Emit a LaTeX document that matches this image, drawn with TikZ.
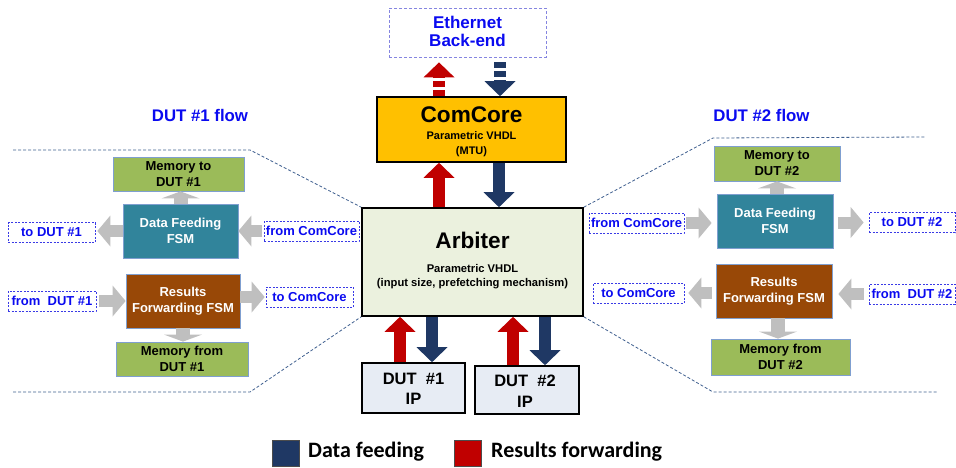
\documentclass[tikz,border=0pt]{standalone}
\usepackage{fontspec}
\setmainfont{Liberation Sans}
\newfontfamily\legendfont{Carlito}
\usetikzlibrary{arrows.meta}

\definecolor{ccfill}{HTML}{FFC000}
\definecolor{arbfill}{HTML}{EBF1DE}
\definecolor{dutfill}{HTML}{E7ECF4}
\definecolor{memgreen}{HTML}{9BBB59}
\definecolor{feedteal}{HTML}{31849B}
\definecolor{resbrown}{HTML}{984807}
\definecolor{arrowgray}{HTML}{BFBFBF}
\definecolor{resred}{HTML}{C00000}
\definecolor{feedblue}{HTML}{1F3864}
\definecolor{porttext}{HTML}{0A0AF0}
\definecolor{portline}{HTML}{3A3AE6}
\definecolor{ethline}{HTML}{8585E0}
\definecolor{panelline}{HTML}{7F9FD0}
\definecolor{regionblue}{HTML}{3F5F8F}

\newcommand\fsz[2]{\fontsize{#1}{#2}\selectfont}

\tikzset{
  panelbox/.style={draw=panelline, line width=0.8pt, inner sep=0pt, align=center,
    font=\bfseries\fsz{13}{16}},
  membox/.style={panelbox, fill=memgreen, text=black},
  feedbox/.style={panelbox, fill=feedteal, text=white},
  resbox/.style={panelbox, fill=resbrown, text=white},
  portbox/.style={draw=portline, line width=0.7pt, dash pattern=on 2pt off 1.5pt,
    inner sep=0pt, text=porttext, font=\bfseries\fsz{13}{15}, minimum height=20pt},
  bigbox/.style={draw=black, line width=1.6pt, inner sep=0pt},
  boxtext/.style={inner sep=0pt, anchor=base, font=\bfseries#1},
  flowtitle/.style={inner sep=0pt, text=porttext, font=\bfseries\fsz{16.8}{20}},
  resarrow/.style={draw=resred, line width=12pt,
    -{Triangle[width=31pt,length=15pt,line width=0pt]}},
  feedarrow/.style={draw=feedblue, line width=12pt,
    -{Triangle[width=31pt,length=15pt,line width=0pt]}},
  hgray/.style={draw=arrowgray, line width=12pt,
    -{Triangle[width=31pt,length=13pt,line width=0pt]}},
  vgray/.style={draw=arrowgray, line width=14pt,
    -{Triangle[width=38pt,length=7pt,line width=0pt]}},
  regionline/.style={draw=regionblue, line width=0.8pt, dash pattern=on 3pt off 2pt},
  legendkey/.style={draw=black!70, line width=0.6pt, minimum width=27pt,
    minimum height=26pt, inner sep=0pt},
  legendtext/.style={inner sep=0pt, anchor=base west,
    font=\legendfont\bfseries\fsz{22}{26}}
}

\begin{document}
\begin{tikzpicture}[x=1pt,y=-1pt]
\useasboundingbox (0,0) rectangle (956,468);

% outlines of the two per-DUT flow regions
\coordinate (lt1) at (13,150);
\coordinate (lt2) at (250,150);
\coordinate (lb1) at (13,392);
\coordinate (lb2) at (250,392);
\coordinate (rt1) at (925,137);
\coordinate (rt2) at (713,138);
\coordinate (rb1) at (938,392);
\coordinate (rb2) at (713,392);

% central blocks
\node[bigbox, fill=arbfill, minimum width=221pt, minimum height=108pt] (arb) at (472.5,262) {};
\draw[regionline] (lt1) -- (lt2) -- (arb.north west);
\draw[regionline] (lb1) -- (lb2) -- (arb.south west);
\draw[regionline] (arb.north east) -- (rt2) -- (rt1);
\draw[regionline] (arb.south east) -- (rb2) -- (rb1);
\node[bigbox, fill=arbfill, minimum width=221pt, minimum height=108pt] (arbtop) at (472.5,262) {};

\node[boxtext={\fsz{22.6}{26}}] (arbname) at (472.5,248) {Arbiter};
\node[boxtext={\fsz{11.2}{13}}] (arbsub1) at (472.5,272.5) {Parametric VHDL};
\node[boxtext={\fsz{11.2}{13}}] (arbsub2) at (472.5,286) {(input size, prefetching mechanism)};

\node[bigbox, fill=ccfill, minimum width=189pt, minimum height=65pt] (cc) at (471.5,129.5) {};
\node[boxtext={\fsz{22.6}{26}}] (ccname) at (471.5,123) {ComCore};
\node[boxtext={\fsz{11}{13}}] (ccsub1) at (471.5,140) {Parametric VHDL};
\node[boxtext={\fsz{11}{13}}] (ccsub2) at (471.5,154) {(MTU)};

\node[draw=ethline, line width=0.8pt, dash pattern=on 3pt off 2pt,
      minimum width=157pt, minimum height=49pt, inner sep=0pt] (eth) at (467.5,32.5) {};
\node[boxtext={\fsz{17}{19}}, text=porttext] (eth1) at (467.5,28.5) {Ethernet};
\node[boxtext={\fsz{17}{19}}, text=porttext] (eth2) at (467.5,46.8) {Back-end};

\node[draw=black, line width=1.6pt, fill=dutfill, inner sep=0pt,
      minimum width=103pt, minimum height=50pt] (dut1) at (413.5,388) {};
\node[boxtext={\fsz{16.5}{20}}] (dut1a) at (413.5,384) {DUT\ \ \#1};
\node[boxtext={\fsz{16.5}{20}}] (dut1b) at (413.5,404.5) {IP};
\node[draw=black, line width=1.6pt, fill=dutfill, inner sep=0pt,
      minimum width=104pt, minimum height=48pt] (dut2) at (527,390) {};
\node[boxtext={\fsz{16.5}{20}}] (dut2a) at (525,386.7) {DUT\ \ \#2};
\node[boxtext={\fsz{16.5}{20}}] (dut2b) at (525,407) {IP};

% block arrows between the central blocks
\draw[resarrow, dash pattern=on 6pt off 3pt] ([xshift=-32.5pt]cc.north)
  -- ([xshift=-32.5pt]cc.north |- eth.south) [shorten >=5pt];
\draw[feedarrow, dash pattern=on 6pt off 3pt, shorten <=5pt] ([xshift=28.5pt]cc.north |- eth.south)
  -- ([xshift=28.5pt]cc.north);
\draw[resarrow] ([xshift=-33.5pt]arb.north) -- ([xshift=-33.5pt]arb.north |- cc.south);
\draw[feedarrow] ([xshift=26.5pt]arb.north |- cc.south) -- ([xshift=26.5pt]arb.north);
\draw[resarrow] ([xshift=-13.5pt]dut1.north) -- ([xshift=-13.5pt]dut1.north |- arb.south);
\draw[feedarrow] ([xshift=18.5pt]dut1.north |- arb.south) -- ([xshift=18.5pt]dut1.north);
\draw[resarrow] ([xshift=-14pt]dut2.north) -- ([xshift=-14pt]dut2.north |- arb.south);
\draw[feedarrow] ([xshift=18pt]dut2.north |- arb.south) -- ([xshift=18pt]dut2.north);

% DUT #1 flow
\node[flowtitle] (flow1) at (200,115) {DUT \#1 flow};
\node[membox, minimum width=131pt, minimum height=34pt] (mem1in) at (178.5,174) {Memory to\\DUT \#1};
\node[feedbox, minimum width=115pt, minimum height=54pt] (df1) at (180.5,231) {Data Feeding\\FSM};
\node[resbox, minimum width=114pt, minimum height=54pt] (rf1) at (183,301) {Results\\Forwarding FSM};
\node[membox, minimum width=132pt, minimum height=34pt] (mem1out) at (182,359) {Memory from\\DUT \#1};
\node[portbox, minimum width=87pt] (todut1) at (51.5,232.5) {to DUT \#1};
\node[portbox, minimum width=95pt] (fromcc1) at (311.5,231) {from ComCore};
\node[portbox, minimum width=88pt] (fromdut1) at (52,301) {from\ \ DUT \#1};
\node[portbox, minimum width=87pt] (tocc1) at (309.5,297) {to ComCore};

\draw[vgray] (df1.north) -- (df1.north |- mem1in.south);
\draw[hgray, shorten >=2pt] (df1.west) -- (df1.west -| todut1.east);
\draw[hgray, shorten <=2pt] (fromcc1.west) -- (fromcc1.west -| df1.east);
\draw[hgray, shorten <=3pt] (fromdut1.east) -- (fromdut1.east -| rf1.west);
\draw[hgray, shorten >=1pt] (tocc1.west -| rf1.east) -- (tocc1.west);
\draw[vgray] (rf1.south) -- (rf1.south |- mem1out.north);

% DUT #2 flow
\node[flowtitle] (flow2) at (761.5,115) {DUT \#2 flow};
\node[membox, minimum width=126pt, minimum height=35pt] (mem2in) at (777,163.5) {Memory to\\DUT \#2};
\node[feedbox, minimum width=116pt, minimum height=54pt] (df2) at (775,221) {Data Feeding\\FSM};
\node[resbox, minimum width=116pt, minimum height=54pt] (rf2) at (774,291) {Results\\Forwarding FSM};
\node[membox, minimum width=139pt, minimum height=36pt] (mem2out) at (780.5,357) {Memory from\\DUT \#2};
\node[portbox, minimum width=95pt] (fromcc2) at (636.5,223) {from ComCore};
\node[portbox, minimum width=86pt] (todut2) at (912,222.5) {to DUT \#2};
\node[portbox, minimum width=91pt] (tocc2) at (638.5,293) {to ComCore};
\node[portbox, minimum width=86pt] (fromdut2) at (912,294) {from\ \ DUT \#2};

\draw[vgray] ([xshift=2pt]df2.north) -- ([xshift=2pt]df2.north |- mem2in.south);
\draw[hgray, shorten <=2pt, shorten >=5pt] (fromcc2.east) -- (fromcc2.east -| df2.west);
\draw[hgray, shorten <=5pt, shorten >=5pt] (df2.east |- todut2.west) -- (todut2.west);
\draw[hgray, shorten <=4pt, shorten >=4pt] (rf2.west |- tocc2.east) -- (tocc2.east);
\draw[hgray, shorten <=5pt, shorten >=6pt] (fromdut2.west) -- (fromdut2.west -| rf2.east);
\draw[vgray] ([xshift=4pt]rf2.south) -- ([xshift=4pt]rf2.south |- mem2out.north);

% legend
\node[legendkey, fill=feedblue] (keyfeed) at (285.5,453) {};
\node[legendtext] (labfeed) at (308,457) {Data feeding};
\node[legendkey, fill=resred] (keyres) at (468,453) {};
\node[legendtext] (labres) at (491,457) {Results forwarding};
\end{tikzpicture}
\end{document}
